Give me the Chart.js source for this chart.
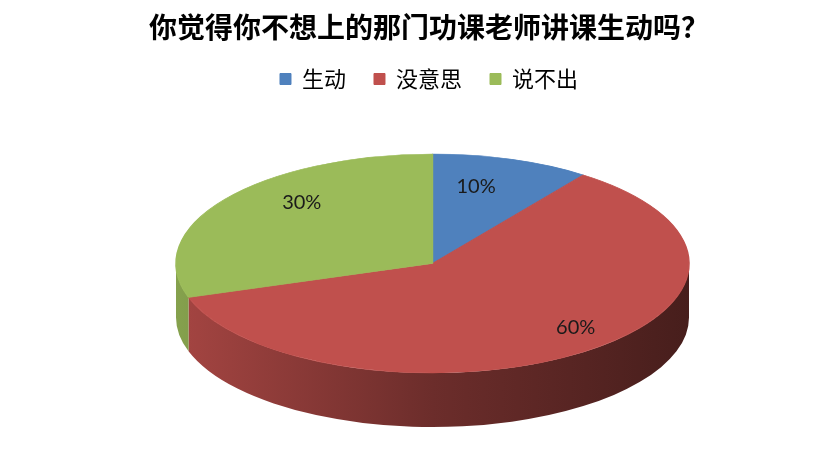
<!DOCTYPE html>
<html><head><meta charset="utf-8">
<script src="https://cdn.jsdelivr.net/npm/chart.js@4.4.0/dist/chart.umd.min.js"></script>
<style>html,body{margin:0;padding:0;background:#fff;}#wrap{width:828px;height:460px;}</style>
</head><body><div id="wrap"><canvas id="c" width="828" height="460"></canvas></div>
<script>
const titleText = '你觉得你不想上的那门功课老师讲课生动吗？';
const categories = ['生动', '没意思', '说不出'];
const values = [10, 60, 30];
const colors = ['#4f81bd', '#c0504d', '#9bbb59'];

function shade(hex, f) {
  const n = parseInt(hex.slice(1), 16);
  const r = (n >> 16) & 255, g = (n >> 8) & 255, b = n & 255;
  return 'rgb(' + Math.round(r * f) + ',' + Math.round(g * f) + ',' + Math.round(b * f) + ')';
}

const pie3d = {
  id: 'pie3d',
  beforeDatasetsDraw(chart, args, o) {
    const meta = chart.getDatasetMeta(0);
    const ctx = chart.ctx;
    const arcs = meta.data;
    if (!arcs.length) return;
    const a0 = arcs[0];
    const R = a0.outerRadius;
    const sx = o.rx / R, sy = o.ry / R;
    ctx.save();
    arcs.forEach((arc, i) => {
      const s = arc.startAngle, e = arc.endAngle;
      for (let k = -1; k <= 1; k++) {
        const lo = Math.max(s, 2 * Math.PI * k), hi = Math.min(e, 2 * Math.PI * k + Math.PI);
        if (hi <= lo) continue;
        const c = colors[i % colors.length];
        const g = ctx.createLinearGradient(o.cx - o.rx, 0, o.cx + o.rx, 0);
        g.addColorStop(0, shade(c, 0.86));
        g.addColorStop(0.5, shade(c, 0.56));
        g.addColorStop(1, shade(c, 0.37));
        ctx.beginPath();
        ctx.ellipse(o.cx, o.cy, o.rx, o.ry, 0, lo, hi, false);
        ctx.ellipse(o.cx, o.cy + o.depth, o.rx, o.ry, 0, hi, lo, true);
        ctx.closePath();
        ctx.fillStyle = g;
        ctx.fill();
      }
    });
    ctx.restore();
    ctx.save();
    ctx.translate(o.cx - sx * a0.x, o.cy - sy * a0.y);
    ctx.scale(sx, sy);
  },
  afterDatasetsDraw(chart, args, o) {
    const ctx = chart.ctx;
    ctx.restore();
    const meta = chart.getDatasetMeta(0);
    const data = chart.data.datasets[0].data;
    const total = data.reduce((a, b) => a + b, 0);
    ctx.save();
    ctx.font = o.labelFont;
    ctx.fillStyle = o.labelColor;
    ctx.textAlign = 'center';
    ctx.textBaseline = 'middle';
    meta.data.forEach((arc, i) => {
      const mid = (arc.startAngle + arc.endAngle) / 2;
      const f = o.labelRadii[i];
      const x = o.cx + o.rx * f * Math.cos(mid);
      const y = o.cy + o.apexShift + o.ry * f * Math.sin(mid);
      ctx.fillText(Math.round(data[i] / total * 100) + '%', x, y);
    });
    ctx.restore();
  }
};

new Chart(document.getElementById('c'), {
  type: 'pie',
  data: {
    labels: categories,
    datasets: [{
      data: values,
      backgroundColor: colors,
      borderColor: colors,
      borderWidth: 1
    }]
  },
  options: {
    responsive: false,
    animation: false,
    events: [],
    layout: { padding: { left: 30, top: 0, right: 0, bottom: 0 } },
    plugins: {
      tooltip: { enabled: false },
      title: {
        display: true,
        text: titleText,
        color: '#000',
        font: { family: '"Noto Sans CJK SC", sans-serif', size: 28, weight: 'bold', lineHeight: 1 },
        padding: { top: 13, bottom: -1 }
      },
      legend: {
        display: true,
        position: 'top',
        labels: {
          color: '#000',
          font: { family: '"Noto Sans CJK SC", sans-serif', size: 22, lineHeight: 1 },
          boxWidth: 11,
          boxHeight: 11,
          padding: 28
        }
      },
      pie3d: {
        cx: 432.5, cy: 263.5, rx: 256.5, ry: 109.5, depth: 54, apexShift: -20,
        labelRadii: [0.55, 0.95, 0.63],
        labelFont: '20px Lato, "Liberation Sans", sans-serif',
        labelColor: '#1a1a1a'
      }
    }
  },
  plugins: [pie3d]
});
</script>
</body></html>
